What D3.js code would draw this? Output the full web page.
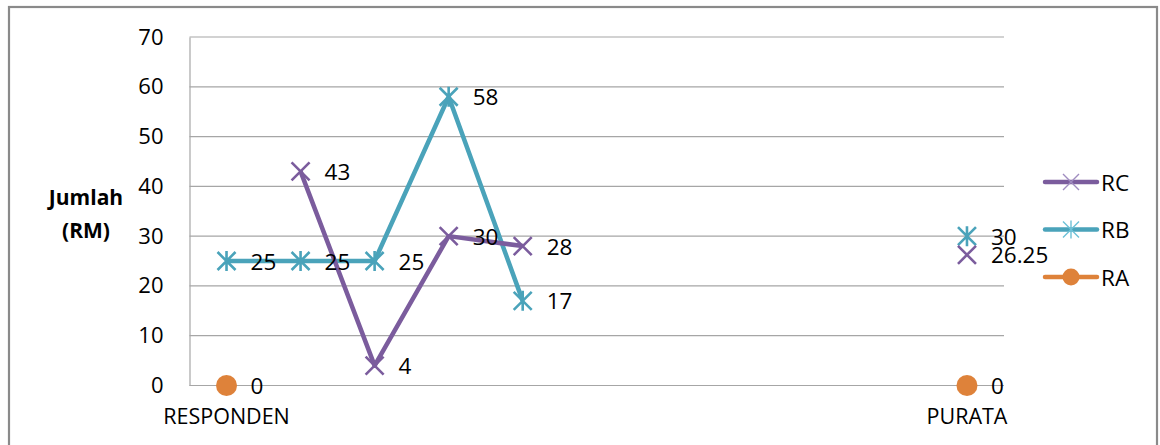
<!DOCTYPE html>
<html><head><meta charset="utf-8">
<script src="https://cdn.jsdelivr.net/npm/d3@7"></script>
<style>body{margin:0;background:#fff}svg{display:block}text{font-family:"Open Sans",sans-serif;fill:#000}</style>
</head><body><svg id="c" width="1160" height="445"></svg>
<script>
const categories = ["RESPONDEN","","","","","","","","","","PURATA"];
const RC = [null,43,4,30,28,null,null,null,null,null,26.25];
const RB = [25,25,25,58,17,null,null,null,null,null,30];
const RA = [0,null,null,null,null,null,null,null,null,null,0];
const yTicks = [0,10,20,30,40,50,60,70];
const seriesNames = ["RC","RB","RA"];
const seriesColors = {RC:"#7B5C9D", RB:"#4AA3BA", RA:"#DE823A"};
const seriesData = {RC:RC, RB:RB, RA:RA};

const svg = d3.select("#c");
const L=189.5, R=1004, T=37, B=385.5;
const x = d3.scaleBand().domain(d3.range(categories.length)).range([L,R]);
const cx = i => x(i)+x.bandwidth()/2;
const y = d3.scaleLinear().domain([0,70]).range([B,T]);

// frame
svg.append("rect").attr("x",9).attr("y",7).attr("width",1148).attr("height",460)
  .attr("fill","none").attr("stroke","#8a8a8a").attr("stroke-width",2.2);

// gridlines
svg.append("g").selectAll("line").data(yTicks.filter(d=>d>0)).join("line")
  .attr("x1",L).attr("x2",R).attr("y1",d=>y(d)).attr("y2",d=>y(d))
  .attr("stroke","#a6a6a6").attr("stroke-width",1.2);

// y axis
const ya = svg.append("g").attr("transform",`translate(${L},0)`)
  .call(d3.axisLeft(y).tickValues(yTicks).tickSize(0).tickPadding(26));
ya.select(".domain").attr("stroke","#a6a6a6").attr("stroke-width",1.2);
ya.selectAll("text").style("font-size","22px").style("font-family","Open Sans");

// x axis
const xa = svg.append("g").attr("transform",`translate(0,${B})`)
  .call(d3.axisBottom(x).tickFormat(i=>categories[i]).tickSize(0).tickPadding(23));
xa.select(".domain").attr("d",`M${L},0H${R}`).attr("stroke","#a6a6a6").attr("stroke-width",1.2);
xa.selectAll("text").style("font-size","21.5px").style("font-family","Open Sans");

// y title
const yt = svg.append("text").attr("text-anchor","middle").style("font-weight","bold").style("font-size","21px");
yt.append("tspan").attr("x",86).attr("y",205).text("Jumlah");
yt.append("tspan").attr("x",86).attr("y",238).text("(RM)");

function markerX(g, px, py, s, col, w){
  g.append("path").attr("d",`M${px-s},${py-s}L${px+s},${py+s}M${px-s},${py+s}L${px+s},${py-s}`)
   .attr("stroke",col).attr("stroke-width",w).attr("fill","none");
}
function markerStar(g, px, py, s, col, w){
  g.append("path").attr("d",`M${px-s},${py-s}L${px+s},${py+s}M${px-s},${py+s}L${px+s},${py-s}M${px},${py-s-1}L${px},${py+s+1}`)
   .attr("stroke",col).attr("stroke-width",w).attr("fill","none");
}

const line = d3.line().defined(d=>d.v!==null).x(d=>cx(d.i)).y(d=>y(d.v));
["RA","RB","RC"].forEach(name=>{
  const data = seriesData[name].map((v,i)=>({i,v}));
  const col = seriesColors[name];
  const g = svg.append("g");
  g.append("path").datum(data).attr("d",line).attr("fill","none")
    .attr("stroke",col).attr("stroke-width",4.5).attr("stroke-linejoin","round");
  data.filter(d=>d.v!==null).forEach(d=>{
    const px=cx(d.i), py=y(d.v);
    if(name==="RC") markerX(g,px,py,9,col,2.6);
    else if(name==="RB") markerStar(g,px,py,9,col,2.6);
    else g.append("circle").attr("cx",px).attr("cy",py).attr("r",10.5).attr("fill",col);
  });
});
// data labels
["RA","RB","RC"].forEach(name=>{
  seriesData[name].forEach((v,i)=>{
    if(v===null) return;
    svg.append("text").attr("x",cx(i)+24).attr("y",y(v)).attr("dy","0.38em")
      .style("font-size","22.5px").text(String(v));
  });
});

// legend
const leg = svg.append("g");
seriesNames.forEach((name,k)=>{
  const ly = 182 + k*47.5;
  const col = seriesColors[name];
  leg.append("line").attr("x1",1045).attr("x2",1097).attr("y1",ly).attr("y2",ly)
    .attr("stroke",col).attr("stroke-width",4.5).attr("stroke-linecap","round");
  if(name==="RC") markerX(leg,1071,ly,8,"#a08cc0",1.4);
  else if(name==="RB") markerStar(leg,1071,ly,8,"#6cc0d6",1.4);
  else leg.append("circle").attr("cx",1071).attr("cy",ly).attr("r",8.5).attr("fill",col);
  leg.append("text").attr("x",1101).attr("y",ly).attr("dy","0.38em").style("font-size","22.5px").text(name);
});
</script></body></html>
